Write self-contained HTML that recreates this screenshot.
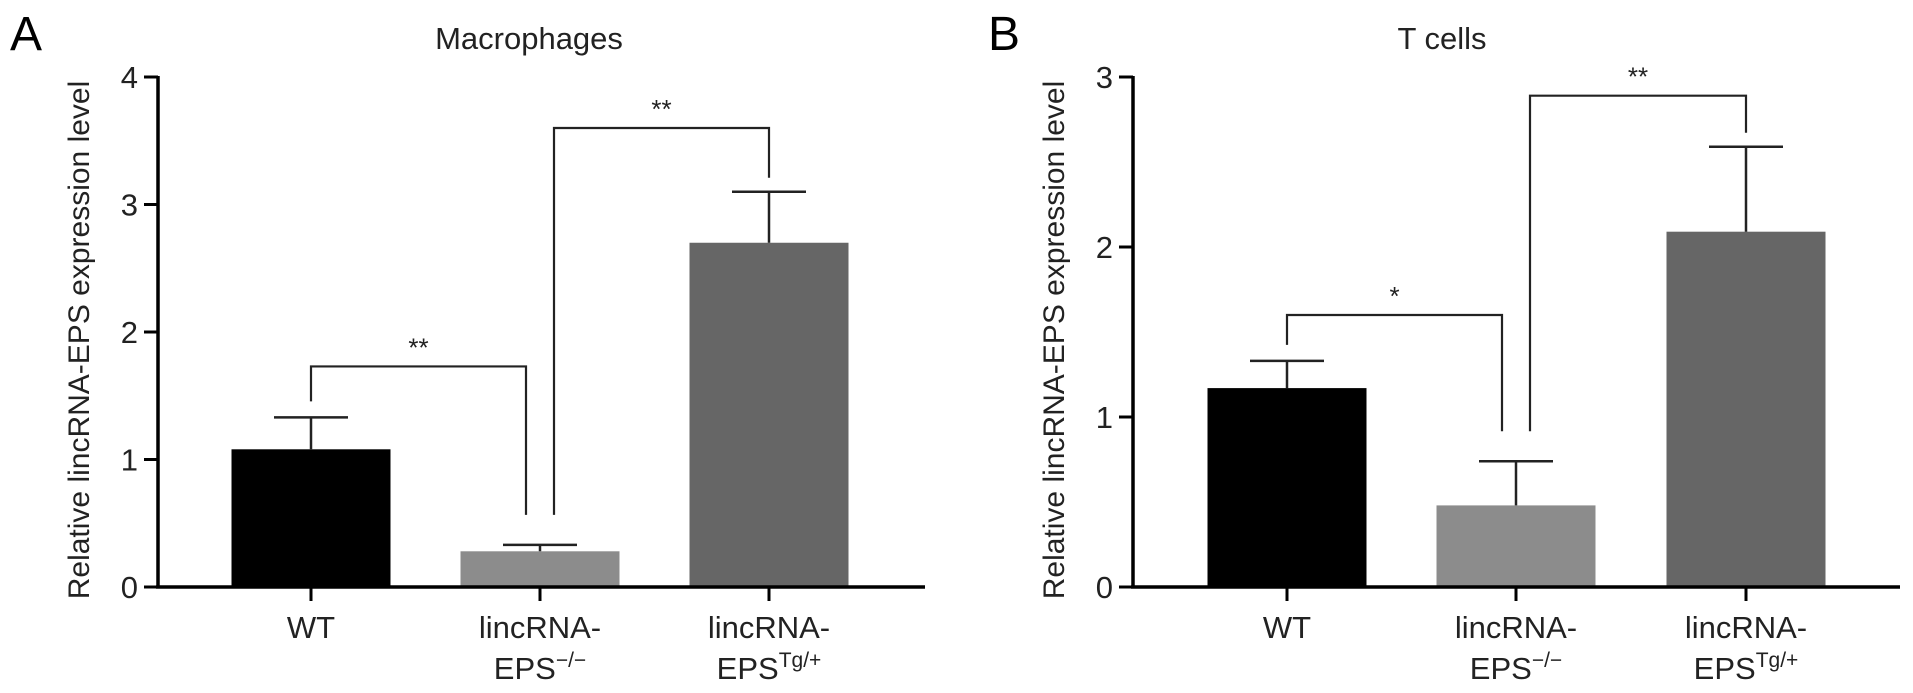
<!DOCTYPE html>
<html><head><meta charset="utf-8"><style>
html,body{margin:0;padding:0;background:#fff;}
svg{display:block;font-family:"Liberation Sans",Arial,sans-serif;}
</style></head><body>
<svg id="chart" width="1913" height="693" viewBox="0 0 1913 693" xmlns="http://www.w3.org/2000/svg"></svg>
<script>
const categories = ["WT", "lincRNA-|EPS|−/−", "lincRNA-|EPS|Tg/+"];
const macroValues = [1.08, 0.28, 2.70];
const macroErrors = [0.25, 0.05, 0.40];
const tcellValues = [1.17, 0.48, 2.09];
const tcellErrors = [0.16, 0.26, 0.50];
const macroTicks = [0, 1, 2, 3, 4];
const tcellTicks = [0, 1, 2, 3];
const barColors = ["#000000", "#8c8c8c", "#666666"];
const macroSig = [[0, 1, 1.73, "**"], [1, 2, 3.6, "**"]];
const tcellSig = [[0, 1, 1.6, "*"], [1, 2, 2.89, "**"]];

const NS = "http://www.w3.org/2000/svg";
const svg = document.getElementById('chart');
function mk(tag, attrs, parent) {
  const e = document.createElementNS(NS, tag);
  for (const k in attrs) e.setAttribute(k, attrs[k]);
  (parent || svg).appendChild(e);
  return e;
}

function panel(cfg) {
  const g = mk('g', {});
  
  
  const x0 = cfg.axisX, y0 = 587, yTop = 77;
  const maxV = cfg.ticks[cfg.ticks.length - 1];
  const y = v => y0 - (y0 - yTop) * v / maxV;
  const cx = i => cfg.centers[i];
  const bw = 159;

  const letter = mk('text', {x: cfg.letterX, y: 50, 'font-size': 48}, g);
  letter.textContent = cfg.letter;
  
  

  const t = mk('text', {x: cfg.titleX, y: 49, 'font-size': 31, 'text-anchor': 'middle', fill: '#222'}, g);
  t.textContent = cfg.title;
  
  

  const yt = mk('text', {x: 0, y: 0, 'font-size': 30, 'text-anchor': 'middle', fill: '#222',
    transform: `translate(${x0 - 69},${(yTop + y0) / 2 + 8}) rotate(-90)`}, g);
  yt.textContent = 'Relative lincRNA-EPS expression level';
  
  

  cfg.values.forEach((v, i) => {
    const r = mk('rect', {x: cx(i) - bw / 2, y: y(v), width: bw, height: y0 - y(v), fill: barColors[i]}, g);
    
    
    const top = y(v + cfg.errors[i]);
    const eb = mk('path', {d: `M${cx(i)},${y(v)}V${top}M${cx(i) - 37},${top}H${cx(i) + 37}`, stroke: '#222', 'stroke-width': 2.5, fill: 'none'}, g);
    
    
  });

  const ax = mk('path', {d: `M${x0},${yTop - 1}V${y0}M${x0 - 2},${y0}H${cfg.axisEnd}`, stroke: '#000', 'stroke-width': 3.5, fill: 'none'}, g);
  
  
  cfg.ticks.forEach(v => {
    const tk = mk('line', {x1: x0 - 14, x2: x0, y1: y(v), y2: y(v), stroke: '#000', 'stroke-width': 3}, g);
    
    
    const tl = mk('text', {x: x0 - 20, y: y(v) + 11, 'font-size': 31, 'text-anchor': 'end', fill: '#222'}, g);
    tl.textContent = v;
    
    
  });
  categories.forEach((c, i) => {
    const tk = mk('line', {x1: cx(i), x2: cx(i), y1: y0, y2: y0 + 14, stroke: '#000', 'stroke-width': 3}, g);
    
    
    const parts = c.split('|');
    const tl = mk('text', {x: cx(i), y: 638, 'font-size': 31, 'text-anchor': 'middle', fill: '#222'}, g);
    tl.textContent = parts[0];
    
    
    if (parts.length > 1) {
      const t2 = mk('text', {x: cx(i), y: 679, 'font-size': 31, 'text-anchor': 'middle', fill: '#222'}, g);
      
      
      const s1 = mk('tspan', {}, t2); s1.textContent = parts[1];
      const s2 = mk('tspan', {'font-size': 21, dy: -12}, t2); s2.textContent = parts[2];
    }
  });

  cfg.sig.forEach(([a, b, lvl, star]) => {
    const ly = y(lvl);
    const offA = a === 1 ? 14 : 0, offB = b === 1 ? -14 : 0;
    const xa = cx(a) + offA, xb = cx(b) + offB;
    const la = y(cfg.values[a] + cfg.errors[a]) - (a === 1 ? 30 : 16);
    const lb = y(cfg.values[b] + cfg.errors[b]) - (b === 1 ? 30 : 14);
    const br = mk('path', {d: `M${xa},${la}V${ly}H${xb}V${lb}`, stroke: '#222', 'stroke-width': 2.2, fill: 'none'}, g);
    
    
    const st = mk('text', {x: (xa + xb) / 2, y: ly - 10, 'font-size': 26, 'text-anchor': 'middle', fill: '#222'}, g);
    st.textContent = star;
    
    
  });
}

panel({name: 'panel-a-macrophages', letter: 'A', letterX: 10, title: 'Macrophages', titleX: 529,
  axisX: 158, axisEnd: 925, centers: [311, 540, 769], ticks: macroTicks,
  values: macroValues, errors: macroErrors, sig: macroSig});
panel({name: 'panel-b-t-cells', letter: 'B', letterX: 988, title: 'T cells', titleX: 1442,
  axisX: 1133, axisEnd: 1900, centers: [1287, 1516, 1746], ticks: tcellTicks,
  values: tcellValues, errors: tcellErrors, sig: tcellSig});
</script>
</body></html>
